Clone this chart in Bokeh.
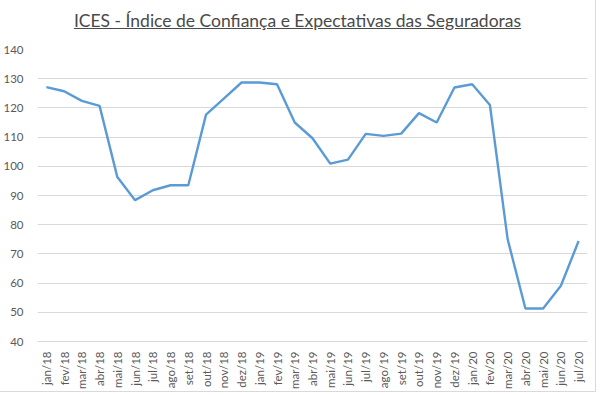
from bokeh.plotting import figure
from bokeh.models import FactorRange, Range1d, FixedTicker, Div
from bokeh.layouts import column
from bokeh.embed import file_html
from bokeh.resources import INLINE
import math

title_text = "ICES - Índice de Confiança e Expectativas das Seguradoras"

months = ["jan/18", "fev/18", "mar/18", "abr/18", "mai/18", "jun/18", "jul/18",
          "ago/18", "set/18", "out/18", "nov/18", "dez/18",
          "jan/19", "fev/19", "mar/19", "abr/19", "mai/19", "jun/19", "jul/19",
          "ago/19", "set/19", "out/19", "nov/19", "dez/19",
          "jan/20", "fev/20", "mar/20", "abr/20", "mai/20", "jun/20", "jul/20"]

ices = [127.1, 125.7, 122.4, 120.7, 96.3, 88.4, 91.8, 93.5, 93.5, 117.7, 123.2, 128.7,
        128.7, 128.1, 115.0, 109.6, 100.9, 102.3, 111.1, 110.4, 111.2, 118.2, 115.0, 127.0,
        128.1, 121.0, 75.0, 51.3, 51.3, 59.1, 74.4]

y_ticks = [40, 50, 60, 70, 80, 90, 100, 110, 120, 130, 140]

FONT = "Lato"
GRAY = "#595959"

title_div = Div(
    text=f'<div style="font-family:{FONT};font-size:17.5px;color:#4a4a4a;'
         f'text-decoration:underline;text-align:center;width:595px;'
         f'padding-top:8px;">{title_text}</div>',
    width=595, height=32, margin=(0, 0, 0, 0))

p = figure(width=595, height=359, x_range=FactorRange(*months, range_padding=0),
           y_range=Range1d(40, 140), output_backend="svg", toolbar_location=None,
           min_border_left=30, min_border_right=8, min_border_top=17, min_border_bottom=46)

p.line(x=months, y=ices, line_color="#5b9bd5", line_width=2.4)

p.outline_line_color = None
p.background_fill_color = "white"
p.border_fill_color = "white"

p.yaxis.ticker = FixedTicker(ticks=y_ticks)
p.yaxis.axis_line_color = None
p.yaxis.major_tick_line_color = None
p.yaxis.minor_tick_line_color = None
p.yaxis.major_label_text_font = FONT
p.yaxis.major_label_text_font_size = "11.5px"
p.yaxis.major_label_text_color = GRAY
p.yaxis.major_label_standoff = 8

p.xaxis.axis_line_color = "#d9d9d9"
p.xaxis.major_tick_line_color = None
p.xaxis.minor_tick_line_color = None
p.xaxis.major_label_orientation = math.pi / 2
p.xaxis.major_label_text_font = FONT
p.xaxis.major_label_text_font_size = "11.5px"
p.xaxis.major_label_text_color = GRAY
p.xaxis.major_label_standoff = 4

p.xgrid.grid_line_color = None
p.ygrid.grid_line_color = "#d9d9d9"
p.ygrid.ticker = FixedTicker(ticks=y_ticks)

layout = column(title_div, p, spacing=0,
                styles={"outline": "1px solid #d9d9d9"})

open("out.html", "w").write(file_html(layout, INLINE))
